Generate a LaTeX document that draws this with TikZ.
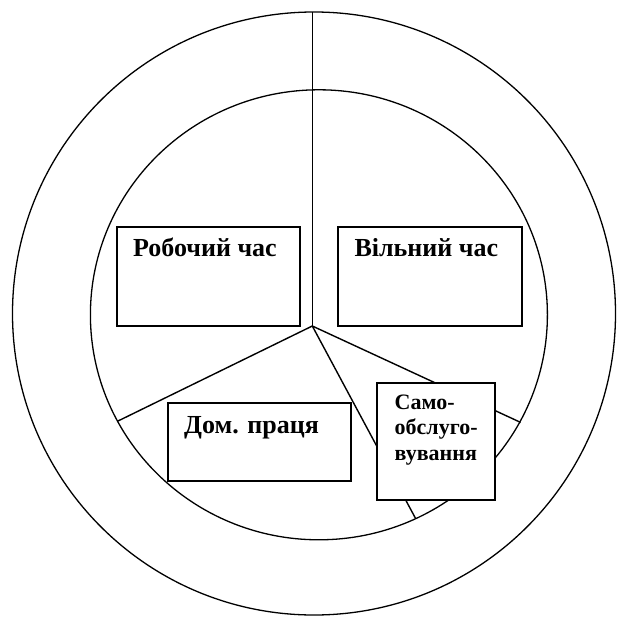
\documentclass[tikz,border=0pt]{standalone}
\usepackage{fontspec}
\setmainfont{Liberation Serif}
\begin{document}
\begin{tikzpicture}[x=1pt,y=-1pt,
  ring/.style={draw=black,line width=1.3pt},
  spoke/.style={draw=black,line width=1.4pt},
  box/.style={rectangle,draw=black,fill=white,line width=1.8pt,inner sep=0pt,outer sep=0pt},
  lbl/.style={inner sep=0pt,font=\fontsize{26}{28}\selectfont\bfseries},
  lblsmall/.style={inner sep=0pt,anchor=base west,font=\fontsize{22}{25}\selectfont\bfseries}]
  \useasboundingbox (0,0) rectangle (616,618);

  % two rings of the time budget
  \draw[ring] (314,313.5) circle [radius=301.5];
  \draw[ring] (318.9,314.8) ellipse [x radius=228.5, y radius=225];

  % spokes from the common centre
  \coordinate (c) at (312.3,326);
  \coordinate (top) at (312.3,12);
  \coordinate (left) at (118,421);
  \coordinate (right) at (520.6,422.4);
  \coordinate (low) at (415.7,518.7);
  \draw[spoke] (c) -- (top);
  \draw[spoke] (c) -- (left);
  \draw[spoke] (c) -- (right);
  \draw[spoke] (c) -- (low);

  % sector boxes
  \node[box,minimum width=183.3pt,minimum height=98.7pt] (work) at (208.3,276.6) {};
  \node[box,minimum width=183.4pt,minimum height=98.7pt] (free) at (430,276.6) {};
  \node[box,minimum width=183.1pt,minimum height=77.8pt] (home) at (259.75,441.7) {};
  \node[box,minimum width=117.9pt,minimum height=117.1pt] (self) at (436.15,441.65) {};

  \node[lbl,anchor=base] (worktxt) at (205,256.7) {Робочий час};
  \node[lbl,anchor=base] (freetxt) at (426.3,256.7) {Вільний час};
  \node[lbl,anchor=base] (hometxt) at (251.6,433) {Дом. праця};
  \node[lblsmall] (self1) at (394.5,409) {Само-};
  \node[lblsmall] (self2) at (394.5,434.5) {обслуго-};
  \node[lblsmall] (self3) at (394.5,460) {вування};
\end{tikzpicture}
\end{document}
